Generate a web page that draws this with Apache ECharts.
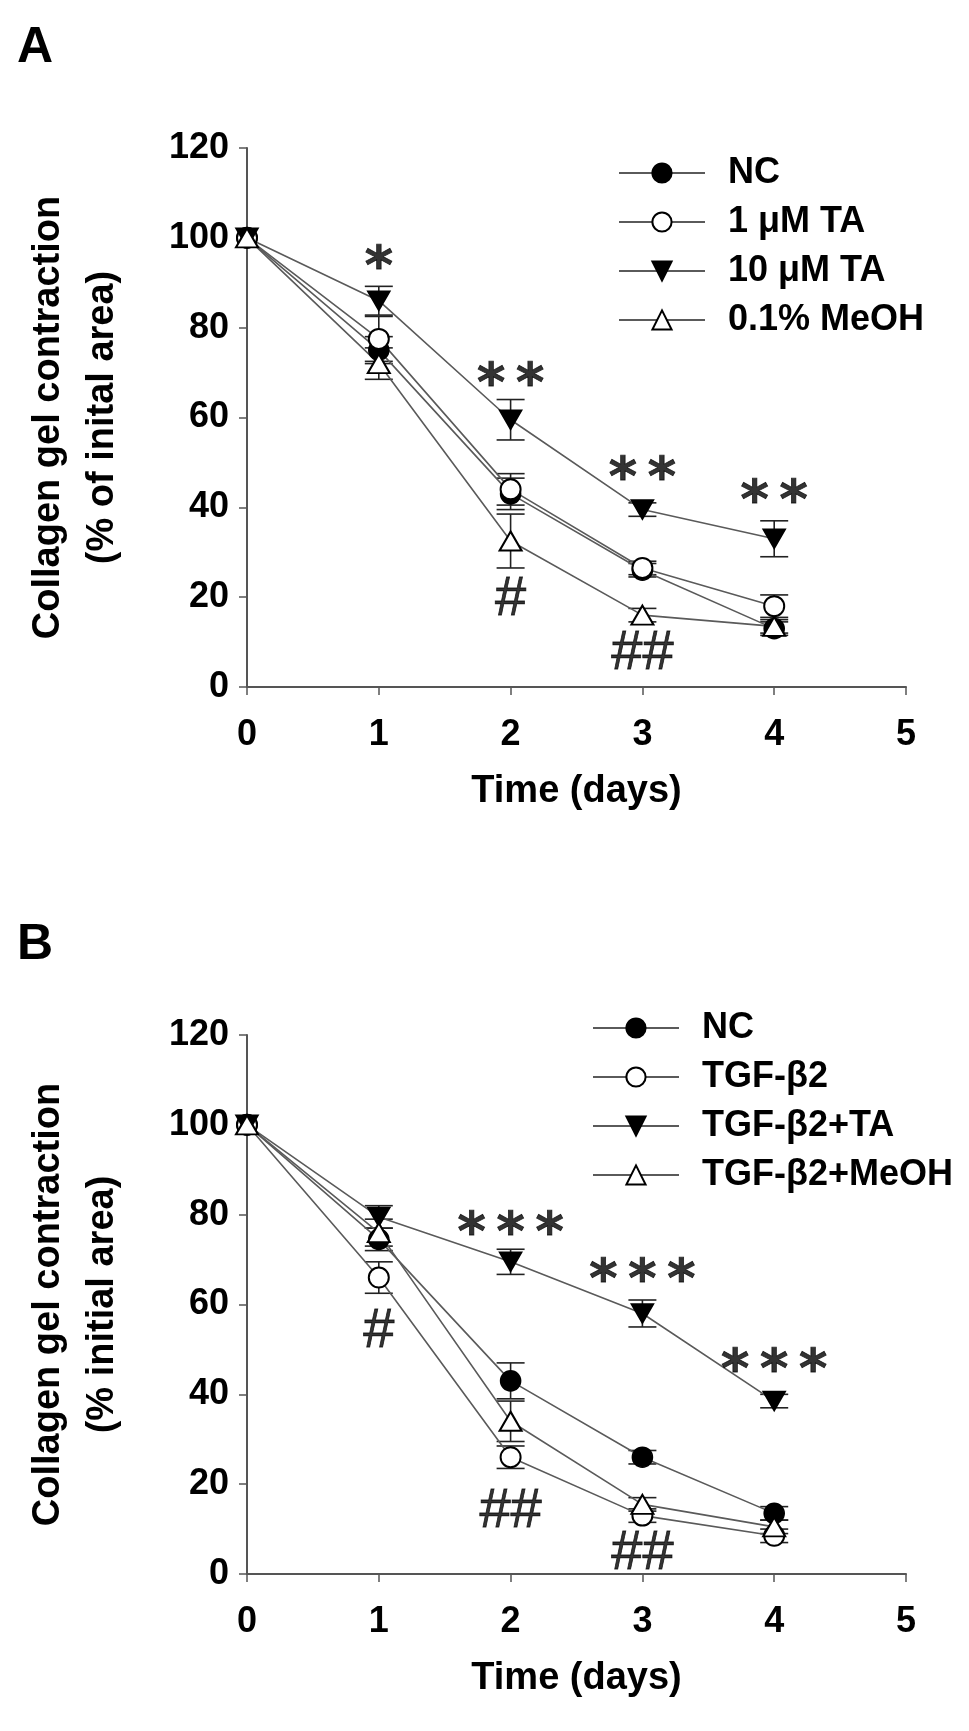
<!DOCTYPE html>
<html><head><meta charset="utf-8">
<script src="https://cdn.jsdelivr.net/npm/echarts@6/dist/echarts.min.js"></script>
<style>html,body{margin:0;padding:0;background:#fff}#c{width:969px;height:1731px}</style>
</head><body><div id="c"></div>
<script>
// ---------- data ----------
const days = [0, 1, 2, 3, 4];
const xTicks = [0, 1, 2, 3, 4, 5];
const yTicks = [0, 20, 40, 60, 80, 100, 120];

// Panel A
const aNames = ['NC', '1 μM TA', '10 μM TA', '0.1% MeOH'];
const aNC = [100, 75, 43, 26, 13];
const aNCErr = [0, 3, 3.5, 1.5, 1.5];
const aTA1 = [100, 77.5, 44, 26.5, 18];
const aTA1Err = [0, 5, 3.5, 1.5, 2.5];
const aTA10 = [100, 86, 59.5, 39.5, 33];
const aTA10Err = [0, 3.2, 4.5, 1.5, 4];
const aMeOH = [100, 72, 32.5, 16, 13.5];
const aMeOHErr = [0, 3.5, 6, 1.5, 1.5];
const aStars = [[1, 95, '*'], [2, 69, '**'], [3, 48, '**'], [4, 43, '**']];
const aHashes = [[2, 19.5, '#'], [3, 7.5, '##']];

// Panel B
const bNames = ['NC', 'TGF-β2', 'TGF-β2+TA', 'TGF-β2+MeOH'];
const bNC = [100, 74.5, 43, 26, 13.5];
const bNCErr = [0, 2.5, 4, 1.5, 1.5];
const bTGF = [100, 66, 26, 13, 8.5];
const bTGFErr = [0, 3.5, 2.5, 1.5, 1.5];
const bTA = [100, 79.5, 69.5, 58, 38.5];
const bTAErr = [0, 2.5, 2.8, 3, 1.5];
const bMeOH = [100, 76, 34, 15.5, 10.5];
const bMeOHErr = [0, 3, 4.5, 1.5, 1.5];
const bStars = [[2, 77.5, '***'], [3, 67, '***'], [4, 47, '***']];
const bHashes = [[1, 54, '#'], [2, 14, '##'], [3, 4.5, '##']];

// ---------- styles ----------
const FONT = 'Liberation Sans, Arial, sans-serif';
const LINE = '#5a5a5a';
const INV_TRI = 'path://M0,0L20,0L10,18Z';
const symbols = [
  { symbol: 'circle', size: 20 },
  { symbol: 'emptyCircle', size: 20 },
  { symbol: INV_TRI, size: [22, 19] },
  { symbol: 'emptyTriangle', size: [22, 19] }
];

function xAxis(gi) {
  return {
    type: 'value', gridIndex: gi, min: 0, max: 5, interval: 1,
    axisLine: { lineStyle: { color: '#555', width: 2 } },
    axisTick: { show: true, inside: false, length: 8, lineStyle: { color: '#555', width: 1.5 } },
    splitLine: { show: false },
    axisLabel: { color: '#000', fontSize: 36, fontWeight: 'bold', fontFamily: FONT, margin: 30 },
    name: 'Time (days)', nameLocation: 'middle', nameGap: 86,
    nameTextStyle: { color: '#000', fontSize: 38, fontWeight: 'bold', fontFamily: FONT }
  };
}
function yAxis(gi, name) {
  return {
    type: 'value', gridIndex: gi, min: 0, max: 120, interval: 20,
    axisLine: { show: true, lineStyle: { color: '#555', width: 2 } },
    axisTick: { show: true, inside: false, length: 8, lineStyle: { color: '#555', width: 1.5 } },
    splitLine: { show: false },
    axisLabel: { color: '#000', fontSize: 36, fontWeight: 'bold', fontFamily: FONT, margin: 18 },
    name: name, nameLocation: 'middle', nameRotate: 90, nameGap: 117,
    nameTextStyle: { color: '#000', fontSize: 38, fontWeight: 'bold', fontFamily: FONT, lineHeight: 54, align: 'center' }
  };
}

function lineSeries(gi, name, vals, k) {
  return {
    type: 'line', name: name, xAxisIndex: gi, yAxisIndex: gi, z: 3,
    data: days.map((d, i) => [d, vals[i]]),
    symbol: symbols[k].symbol, symbolSize: symbols[k].size, showAllSymbol: true,
    lineStyle: { color: LINE, width: 1.6 },
    itemStyle: { color: '#000', borderColor: '#000', borderWidth: 1.6 },
    emphasis: { disabled: true }
  };
}
function errSeries(gi, vals, errs) {
  return {
    type: 'custom', xAxisIndex: gi, yAxisIndex: gi, z: 2, silent: true,
    data: days.map((d, i) => [d, vals[i], errs[i]]),
    encode: { x: 0, y: 1 },
    renderItem: function (params, api) {
      const x = api.value(0), m = api.value(1), e = api.value(2);
      if (!e) return null;
      const t = api.coord([x, m + e]), b = api.coord([x, m - e]);
      const hw = 14, st = { stroke: '#222', lineWidth: 1.6 };
      return {
        type: 'group', children: [
          { type: 'line', shape: { x1: t[0], y1: t[1], x2: b[0], y2: b[1] }, style: st },
          { type: 'line', shape: { x1: t[0] - hw, y1: t[1], x2: t[0] + hw, y2: t[1] }, style: st },
          { type: 'line', shape: { x1: b[0] - hw, y1: b[1], x2: b[0] + hw, y2: b[1] }, style: st }
        ]
      };
    }
  };
}
function noteSeries(gi, arr, family, size, weight, sep, dy) {
  return {
    type: 'scatter', xAxisIndex: gi, yAxisIndex: gi, z: 5, silent: true,
    symbol: 'circle', symbolSize: 1, itemStyle: { color: 'rgba(0,0,0,0)' },
    data: arr.map(a => ({ value: [a[0], a[1]], name: a[2].split('').join(sep) })),
    label: {
      show: true, position: 'inside', formatter: p => p.name, offset: [0, dy],
      color: '#000', fontSize: size, fontFamily: family, fontWeight: weight,
      textBorderColor: '#000', textBorderWidth: 0.8
    }
  };
}
function legend(names, left, top) {
  return {
    orient: 'vertical', left: left, top: top, data: names, selectedMode: false,
    itemWidth: 86, itemHeight: 24, itemGap: 13,
    textStyle: { color: '#000', fontSize: 36, fontWeight: 'bold', fontFamily: FONT, lineHeight: 36, padding: [0, 0, 0, 18] }
  };
}

const chart = echarts.init(document.getElementById('c'), null, { renderer: 'canvas' });
chart.setOption({
  animation: false,
  backgroundColor: '#fff',
  title: [
    { text: 'A', left: 12, top: 18, textStyle: { fontSize: 50, fontWeight: 'bold', fontFamily: FONT, color: '#000' } },
    { text: 'B', left: 12, top: 915, textStyle: { fontSize: 50, fontWeight: 'bold', fontFamily: FONT, color: '#000' } }
  ],
  grid: [
    { left: 247, top: 148, width: 659, height: 539 },
    { left: 247, top: 1035, width: 659, height: 539 }
  ],
  legend: [legend(aNames, 613, 150), legend(bNames, 587, 1005)],
  xAxis: [xAxis(0), xAxis(1)],
  yAxis: [yAxis(0, 'Collagen gel contraction\n(% of inital area)'), yAxis(1, 'Collagen gel contraction\n(% initial area)')],
  series: [
    errSeries(0, aNC, aNCErr), errSeries(0, aTA1, aTA1Err), errSeries(0, aTA10, aTA10Err), errSeries(0, aMeOH, aMeOHErr),
    lineSeries(0, aNames[0], aNC, 0), lineSeries(0, aNames[1], aTA1, 1), lineSeries(0, aNames[2], aTA10, 2), lineSeries(0, aNames[3], aMeOH, 3),
    noteSeries(0, aStars, 'DejaVu Sans', 54, 'bold', '\u2009', 10), noteSeries(0, aHashes, 'Liberation Sans', 56, 'normal', '', 0),
    errSeries(1, bNC, bNCErr), errSeries(1, bTGF, bTGFErr), errSeries(1, bTA, bTAErr), errSeries(1, bMeOH, bMeOHErr),
    lineSeries(1, bNames[0], bNC, 0), lineSeries(1, bNames[1], bTGF, 1), lineSeries(1, bNames[2], bTA, 2), lineSeries(1, bNames[3], bMeOH, 3),
    noteSeries(1, bStars, 'DejaVu Sans', 54, 'bold', '\u2009', 10), noteSeries(1, bHashes, 'Liberation Sans', 56, 'normal', '', 0)
  ]
});
</script></body></html>
